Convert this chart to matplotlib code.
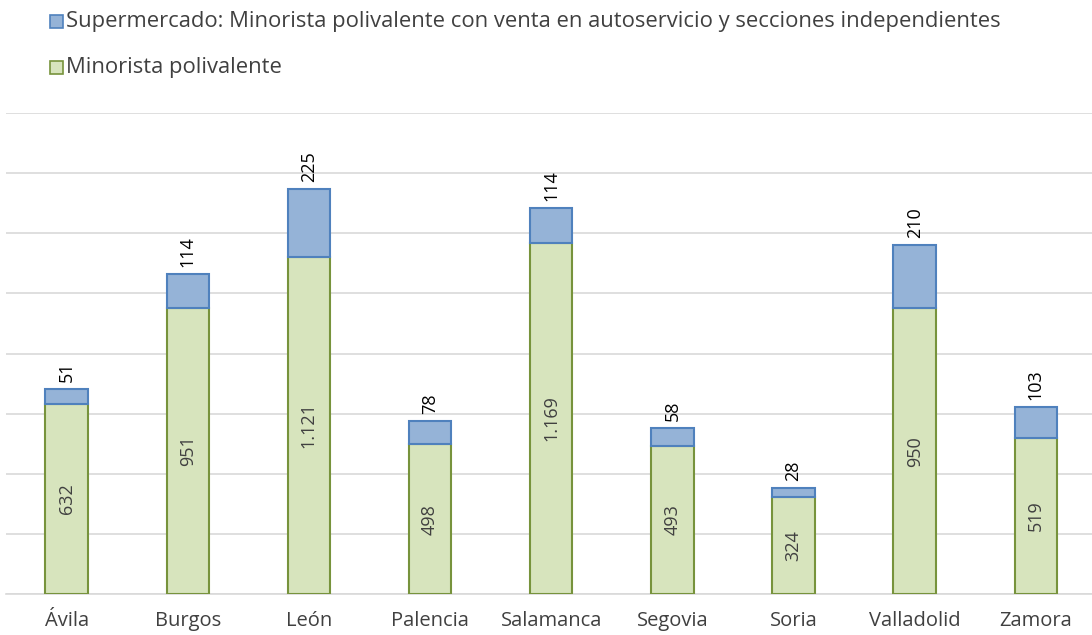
import matplotlib.pyplot as plt
import numpy as np

provincias = ['Ávila', 'Burgos', 'León', 'Palencia', 'Salamanca', 'Segovia', 'Soria', 'Valladolid', 'Zamora']
minorista = [632, 951, 1121, 498, 1169, 493, 324, 950, 519]
supermercado = [51, 114, 225, 78, 114, 58, 28, 210, 103]

lbl_super = 'Supermercado: Minorista polivalente con venta en autoservicio y secciones independientes'
lbl_mino = 'Minorista polivalente'


def fmt(v):
    # separador de miles con punto
    return f'{v:,}'.replace(',', '.')


plt.rcParams['font.family'] = ['Open Sans', 'DejaVu Sans']

fig = plt.figure(figsize=(10.92, 6.35), dpi=100, facecolor='white')
ax = fig.add_axes([6 / 1092, 41 / 635, 1 - 6 / 1092 + 0.004, (594 - 113) / 635])

x = np.arange(len(provincias))
w = 0.35
ax.bar(x, minorista, w, color='#D7E4BD', edgecolor='#77933C', linewidth=1.5, zorder=3)
ax.bar(x, supermercado, w, bottom=minorista, color='#95B3D7', edgecolor='#4F81BD', linewidth=1.5, zorder=3)

for i in range(len(provincias)):
    ax.text(x[i], minorista[i] / 2, fmt(minorista[i]), rotation=90, ha='center', va='center',
            fontsize=13, color='#404040', zorder=4)
    ax.annotate(fmt(supermercado[i]), (x[i], minorista[i] + supermercado[i]), xytext=(0, 5),
                textcoords='offset points', rotation=90, ha='center', va='bottom',
                fontsize=13, color='black', zorder=4)

ax.set_xlim(-0.5, len(provincias) - 0.5)
ax.set_ylim(0, 1600)
ax.set_yticks(np.arange(0, 1601, 200))
ax.set_yticklabels([])
ax.tick_params(axis='y', length=0)
ax.tick_params(axis='x', length=0, labelsize=14.5, labelcolor='#404040', pad=12)
ax.set_xticks(x)
ax.set_xticklabels(provincias)
ax.grid(axis='y', color='#D9D9D9', linewidth=1.2, zorder=0)
for s in ['left', 'right', 'top']:
    ax.spines[s].set_visible(False)
ax.spines['bottom'].set_color('#D9D9D9')
ax.spines['bottom'].set_linewidth(1.2)

# leyenda manual (dos filas)
fig.patches.append(plt.Rectangle((50 / 1092, 1 - 28 / 635), 13 / 1092, 13 / 635, transform=fig.transFigure,
                                 facecolor='#95B3D7', edgecolor='#4F81BD', linewidth=1.2))
fig.text(66 / 1092, 1 - 21 / 635, lbl_super, fontsize=15.8, color='#404040', va='center')
fig.patches.append(plt.Rectangle((50 / 1092, 1 - 74 / 635), 13 / 1092, 13 / 635, transform=fig.transFigure,
                                 facecolor='#D7E4BD', edgecolor='#77933C', linewidth=1.2))
fig.text(66 / 1092, 1 - 67 / 635, lbl_mino, fontsize=15.8, color='#404040', va='center')

fig.savefig('out.png', dpi=100, facecolor='white')
